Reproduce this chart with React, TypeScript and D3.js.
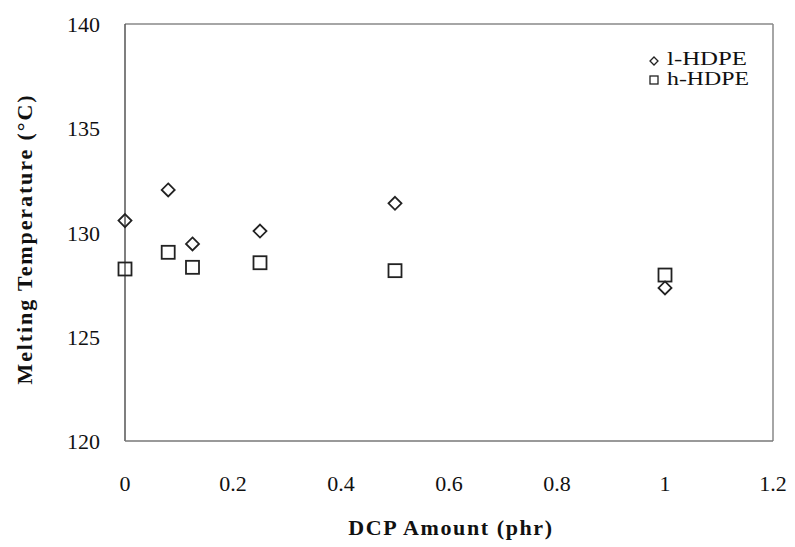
import React from "react";
import * as d3 from "d3";

const dcpAmount = [0, 0.08, 0.125, 0.25, 0.5, 1];
const lHDPE = [130.57, 132.04, 129.45, 130.07, 131.4, 127.34];
const hHDPE = [128.25, 129.05, 128.33, 128.55, 128.17, 127.96];
const xTicks = [0, 0.2, 0.4, 0.6, 0.8, 1, 1.2];
const yTicks = [120, 125, 130, 135, 140];
const seriesNames = ["l-HDPE", "h-HDPE"];

const W = 795, H = 547;
const M = { left: 125, right: 773, top: 24, bottom: 441 };
const FONT = "'Liberation Serif', 'Times New Roman', serif";

export default function App() {
  const x = d3.scaleLinear().domain([0, 1.2]).range([M.left, M.right]);
  const y = d3.scaleLinear().domain([120, 140]).range([M.bottom, M.top]);
  const diamond = (cx: number, cy: number, r: number) =>
    `M${cx},${cy - r}L${cx + r},${cy}L${cx},${cy + r}L${cx - r},${cy}Z`;

  return (
    <svg width={W} height={H} style={{ position: "absolute", left: 0, top: 0, background: "#fff" }}>
      {/* frame */}
      <line x1={M.left} x2={M.right} y1={M.top} y2={M.top} stroke="#888" strokeWidth={1.5} />
      <line x1={M.right} x2={M.right} y1={M.top} y2={M.bottom} stroke="#888" strokeWidth={1.5} />
      <line x1={M.left} x2={M.left} y1={M.top} y2={M.bottom} stroke="#555" strokeWidth={1.5} />
      <line x1={M.left} x2={M.right} y1={M.bottom} y2={M.bottom} stroke="#777" strokeWidth={1.5} />

      {yTicks.map((t) => (
        <text key={"y" + t} x={100} y={y(t) + 3} textAnchor="end" dominantBaseline="middle"
          fontFamily={FONT} fontSize={22} fill="#111">{t}</text>
      ))}
      {xTicks.map((t) => (
        <text key={"x" + t} x={x(t)} y={486} textAnchor="middle" dominantBaseline="middle"
          fontFamily={FONT} fontSize={22} fill="#111">{String(t)}</text>
      ))}

      <text x={451} y={530} textAnchor="middle" dominantBaseline="middle" fontFamily={FONT}
        fontSize={22} fontWeight="bold" letterSpacing={1.6} fill="#111">DCP Amount (phr)</text>
      <text transform={`translate(27,${239}) rotate(-90)`} textAnchor="middle" dominantBaseline="middle"
        fontFamily={FONT} fontSize={22} fontWeight="bold" letterSpacing={1.9} fill="#111">
        Melting Temperature (°C)
      </text>

      {dcpAmount.map((d, i) => (
        <path key={"d" + i} d={diamond(x(d), y(lHDPE[i]), 6.5)} fill="none" stroke="#222" strokeWidth={1.8} />
      ))}
      {dcpAmount.map((d, i) => (
        <rect key={"s" + i} x={x(d) - 6.5} y={y(hHDPE[i]) - 6.5} width={13} height={13}
          fill="none" stroke="#222" strokeWidth={1.8} />
      ))}

      {/* legend */}
      <path d={diamond(654, 61, 4)} fill="none" stroke="#222" strokeWidth={1.3} />
      <rect x={650} y={76} width={8} height={8} fill="none" stroke="#222" strokeWidth={1.3} />
      <text x={667} y={61} dominantBaseline="middle" fontFamily={FONT} fontSize={18}
        textLength={80} lengthAdjust="spacingAndGlyphs" fill="#111">{seriesNames[0]}</text>
      <text x={667} y={81} dominantBaseline="middle" fontFamily={FONT} fontSize={18}
        textLength={82} lengthAdjust="spacingAndGlyphs" fill="#111">{seriesNames[1]}</text>
    </svg>
  );
}
